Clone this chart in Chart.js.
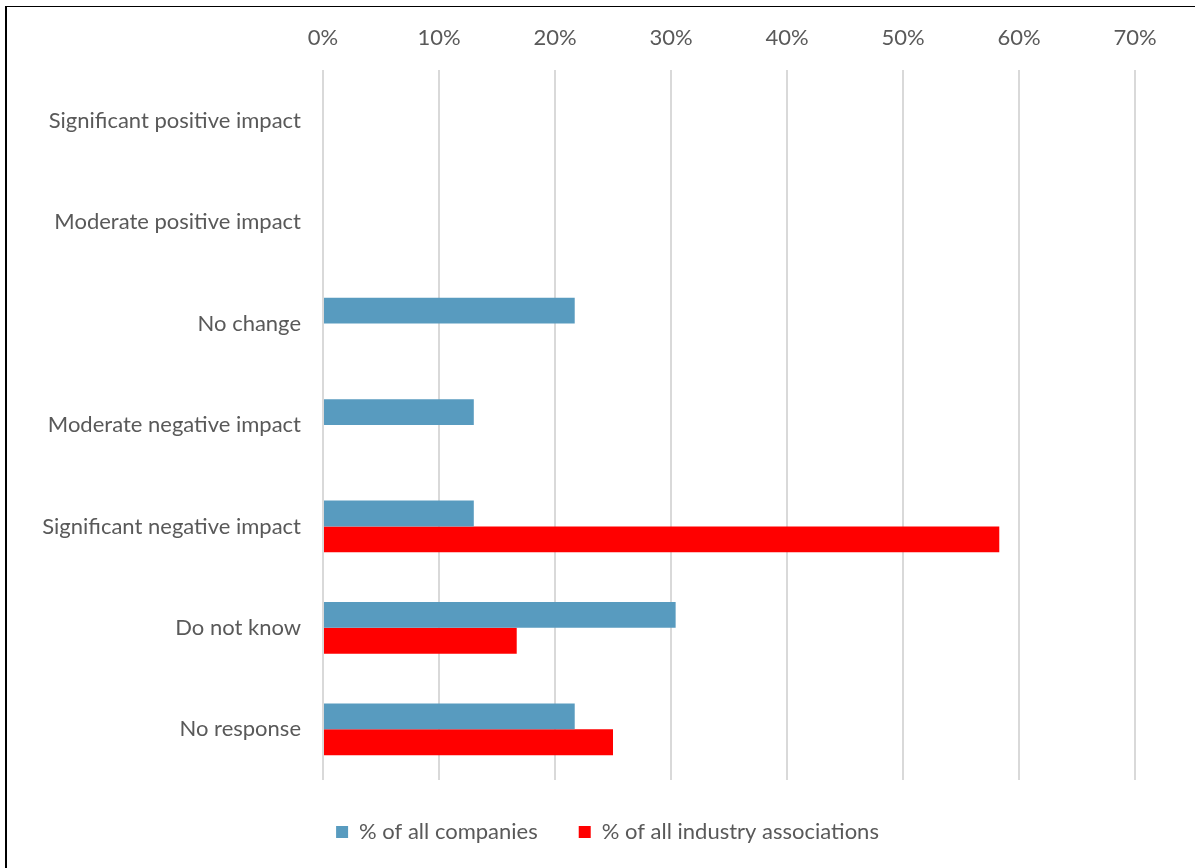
<!DOCTYPE html>
<html>
<head>
<meta charset="utf-8">
<script src="https://cdn.jsdelivr.net/npm/chart.js@4.4.1/dist/chart.umd.min.js"></script>
<style>
  html, body { margin: 0; padding: 0; background: #fff; }
  #wrap { position: absolute; left: 0; top: 0; width: 1195px; height: 868px; }
  #frame { position: absolute; left: 5px; top: 6px; width: 1190px; height: 862px;
           border-left: 2px solid #000; border-top: 1px solid #000;
           box-sizing: border-box; pointer-events: none; }
</style>
</head>
<body>
<div id="wrap"><canvas id="c" width="1195" height="868"></canvas></div>
<div id="frame"></div>
<script>
// Survey answers, top to bottom
const categories = [
  'Significant positive impact',
  'Moderate positive impact',
  'No change',
  'Moderate negative impact',
  'Significant negative impact',
  'Do not know',
  'No response'
];
// Share of respondents (%)
const companies    = [0, 0, 21.7, 13.0, 13.0, 30.4, 21.7];
const associations = [0, 0, 0, 0, 58.3, 16.7, 25.0];
const seriesNames  = ['% of all companies', '% of all industry associations'];
const xTicks       = [0, 10, 20, 30, 40, 50, 60, 70];

const FONT = 'Lato, "Open Sans", sans-serif';
const TEXT = '#595959';
const SIZE = 22;

new Chart(document.getElementById('c'), {
  type: 'bar',
  data: {
    labels: categories,
    datasets: [
      { label: seriesNames[0], data: companies, backgroundColor: '#589BBF',
        barPercentage: 1, categoryPercentage: 0.51 },
      { label: seriesNames[1], data: associations, backgroundColor: '#FF0000',
        barPercentage: 1, categoryPercentage: 0.51 }
    ]
  },
  options: {
    indexAxis: 'y',
    responsive: false,
    animation: false,
    devicePixelRatio: 1,
    layout: { padding: { left: 20, right: 0, top: 0, bottom: 15 } },
    scales: {
      x: {
        position: 'top',
        min: xTicks[0],
        max: xTicks[xTicks.length - 1],
        afterBuildTicks: s => { s.ticks = xTicks.map(v => ({ value: v })); },
        afterFit: s => { s.height = 70; },
        ticks: {
          callback: v => v + '%',
          color: TEXT,
          font: { family: FONT, size: SIZE },
          padding: 19,
          maxRotation: 0
        },
        grid: { color: '#d9d9d9', lineWidth: 2, drawTicks: false },
        border: { display: false }
      },
      y: {
        afterFit: s => { s.width = 303; },
        ticks: {
          color: TEXT,
          font: { family: FONT, size: SIZE },
          padding: 14
        },
        grid: { display: false },
        border: { display: false }
      },
      // empty right-hand margin axis so the legend centres on the full width
      yRight: {
        axis: 'y',
        type: 'category',
        labels: categories,
        position: 'right',
        afterFit: s => { s.width = 60; },
        ticks: { display: false },
        grid: { display: false },
        border: { display: false }
      }
    },
    plugins: {
      legend: {
        position: 'bottom',
        labels: {
          boxWidth: 12,
          boxHeight: 12,
          padding: 41,
          color: TEXT,
          font: { family: FONT, size: SIZE }
        }
      },
      tooltip: { enabled: false }
    }
  }
});
</script>
</body>
</html>
